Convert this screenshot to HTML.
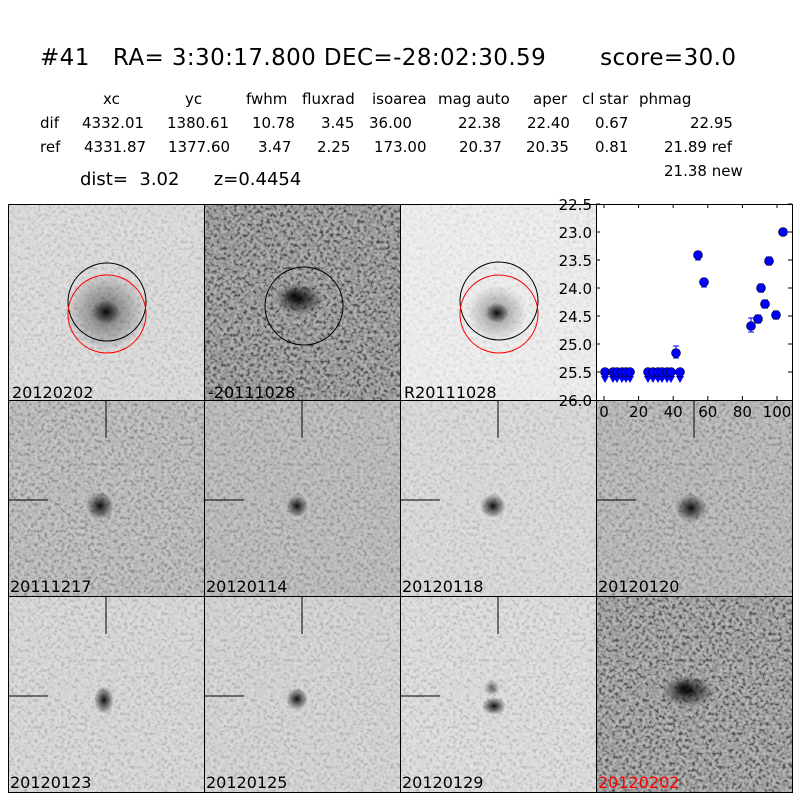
<!DOCTYPE html>
<html><head><meta charset="utf-8"><style>
html,body{margin:0;padding:0;background:#fff;}
svg{display:block;}
text{font-family:"DejaVu Sans","Liberation Sans",sans-serif;fill:#000;white-space:pre;}
</style></head><body>
<svg width="800" height="800" viewBox="0 0 800 800" xmlns="http://www.w3.org/2000/svg" xml:space="preserve">
<defs>
<filter id="n1" x="0" y="0" width="100%" height="100%"><feTurbulence type="fractalNoise" baseFrequency="0.3" numOctaves="2" seed="3"/><feColorMatrix type="matrix" values="0 0 0 0 0.5  0 0 0 0 0.5  0 0 0 0 0.5  0 0 0 1.4 -0.3"/></filter>
<filter id="n2" x="0" y="0" width="100%" height="100%"><feTurbulence type="fractalNoise" baseFrequency="0.3" numOctaves="2" seed="7"/><feColorMatrix type="matrix" values="2.5 0 0 0 -0.75  2.5 0 0 0 -0.75  2.5 0 0 0 -0.75  0 0 0 0 1"/></filter>
<radialGradient id="blob"><stop offset="0" stop-color="#000" stop-opacity="0.95"/><stop offset="0.4" stop-color="#111" stop-opacity="0.6"/><stop offset="1" stop-color="#000" stop-opacity="0"/></radialGradient>
</defs>
<text x="40" y="65" font-size="23" textLength="696" lengthAdjust="spacing">#41   RA= 3:30:17.800 DEC=-28:02:30.59       score=30.0</text>
<g font-size="15">
<text x="103" y="104">xc</text><text x="185" y="104">yc</text><text x="246" y="104">fwhm</text><text x="302" y="104">fluxrad</text><text x="372" y="104">isoarea</text><text x="438" y="104">mag auto</text><text x="533" y="104">aper</text><text x="582" y="104">cl star</text><text x="639" y="104">phmag</text>
<text x="40" y="128">dif</text><text x="82" y="128">4332.01</text><text x="167" y="128">1380.61</text><text x="252" y="128">10.78</text><text x="321" y="128">3.45</text><text x="369" y="128">36.00</text><text x="458" y="128">22.38</text><text x="527" y="128">22.40</text><text x="595" y="128">0.67</text><text x="690" y="128">22.95</text>
<text x="40" y="152">ref</text><text x="84" y="152">4331.87</text><text x="168" y="152">1377.60</text><text x="258" y="152">3.47</text><text x="317" y="152">2.25</text><text x="374" y="152">173.00</text><text x="459" y="152">20.37</text><text x="526" y="152">20.35</text><text x="595" y="152">0.81</text><text x="664" y="152">21.89 ref</text>
<text x="664" y="176">21.38 new</text>
</g>
<text x="80" y="185" font-size="18">dist=  3.02      z=0.4454</text>

<g transform="translate(8,204)"><rect width="196" height="196" fill="#dcdcdc"/><rect width="196" height="196" filter="url(#n2)" opacity="0.12"/><ellipse cx="98" cy="108" rx="40" ry="40" fill="url(#blob)" opacity="0.55"/><ellipse cx="98" cy="108" rx="14" ry="12" fill="url(#blob)"/><circle cx="99" cy="98" r="39" fill="none" stroke="#000"/><circle cx="99" cy="110" r="39" fill="none" stroke="red"/><text x="4" y="194" font-size="16">20120202</text></g>
<g transform="translate(204,204)"><rect width="196" height="196" fill="#808080"/><rect width="196" height="196" filter="url(#n2)" opacity="0.4"/><ellipse cx="95" cy="95" rx="24" ry="16" fill="url(#blob)"/><ellipse cx="90" cy="92" rx="10" ry="8" fill="url(#blob)"/><circle cx="100" cy="102" r="39" fill="none" stroke="#000"/><text x="4" y="194" font-size="16">-20111028</text></g>
<g transform="translate(400,204)"><rect width="196" height="196" fill="#efefef"/><rect width="196" height="196" filter="url(#n2)" opacity="0.08"/><ellipse cx="97" cy="109" rx="30" ry="28" fill="url(#blob)" opacity="0.4"/><ellipse cx="97" cy="109" rx="12" ry="10" fill="url(#blob)"/><circle cx="99" cy="97" r="39" fill="none" stroke="#000"/><circle cx="99" cy="110" r="39" fill="none" stroke="red"/><text x="4" y="194" font-size="16">R20111028</text></g>

<g transform="translate(8,400)"><rect width="196" height="196" fill="#b8b8b8"/><rect width="196" height="196" filter="url(#n2)" opacity="0.22"/><ellipse cx="92" cy="106" rx="14" ry="14" fill="url(#blob)"/><path d="M98 0V38M0 100H40" stroke="#000"/><text x="2" y="192" font-size="16">20111217</text></g>
<g transform="translate(204,400)"><rect width="196" height="196" fill="#b8b8b8"/><rect width="196" height="196" filter="url(#n2)" opacity="0.18"/><ellipse cx="93" cy="106" rx="11" ry="11" fill="url(#blob)"/><path d="M98 0V38M0 100H40" stroke="#000"/><text x="2" y="192" font-size="16">20120114</text></g>
<g transform="translate(400,400)"><rect width="196" height="196" fill="#dadada"/><rect width="196" height="196" filter="url(#n2)" opacity="0.12"/><ellipse cx="93" cy="106" rx="13" ry="12" fill="url(#blob)"/><path d="M98 0V38M0 100H40" stroke="#000"/><text x="2" y="192" font-size="16">20120118</text></g>
<g transform="translate(596,400)"><rect width="196" height="196" fill="#b4b4b4"/><rect width="196" height="196" filter="url(#n2)" opacity="0.2"/><ellipse cx="95" cy="108" rx="16" ry="14" fill="url(#blob)"/><path d="M98 0V38M0 100H40" stroke="#000"/><text x="2" y="192" font-size="16">20120120</text></g>

<g transform="translate(8,596)"><rect width="196" height="196" fill="#d8d8d8"/><rect width="196" height="196" filter="url(#n2)" opacity="0.14"/><ellipse cx="96" cy="104" rx="10" ry="14" fill="url(#blob)"/><path d="M98 0V38M0 100H40" stroke="#000"/><text x="2" y="192" font-size="16">20120123</text></g>
<g transform="translate(204,596)"><rect width="196" height="196" fill="#d4d4d4"/><rect width="196" height="196" filter="url(#n2)" opacity="0.14"/><ellipse cx="93" cy="103" rx="11" ry="11" fill="url(#blob)"/><path d="M98 0V38M0 100H40" stroke="#000"/><text x="2" y="192" font-size="16">20120125</text></g>
<g transform="translate(400,596)"><rect width="196" height="196" fill="#dedede"/><rect width="196" height="196" filter="url(#n2)" opacity="0.14"/><ellipse cx="92" cy="92" rx="8" ry="8" fill="url(#blob)" opacity="0.6"/><ellipse cx="94" cy="110" rx="12" ry="9" fill="url(#blob)"/><path d="M98 0V38M0 100H40" stroke="#000"/><text x="2" y="192" font-size="16">20120129</text></g>
<g transform="translate(596,596)"><rect width="196" height="196" fill="#8a8a8a"/><rect width="196" height="196" filter="url(#n2)" opacity="0.4"/><ellipse cx="92" cy="95" rx="26" ry="16" fill="url(#blob)"/><ellipse cx="88" cy="92" rx="10" ry="8" fill="url(#blob)"/><text x="2" y="192" font-size="16" style="fill:red">20120202</text></g>

<g fill="none" stroke="#000" stroke-width="1">
<rect x="8.5" y="204.5" width="784" height="588"/>
<path d="M204.5 204V792M400.5 204V792M596.5 400V792M8 400.5H792M8 596.5H792"/>
</g>

<rect x="596.5" y="204.5" width="196" height="196" fill="#fff" stroke="#000"/>
<g stroke="#000" stroke-width="1">
<path d="M604 204v4M604 400v-4M638.6 204v4M638.6 400v-4M673.2 204v4M673.2 400v-4M707.8 204v4M707.8 400v-4M742.4 204v4M742.4 400v-4M777 204v4M777 400v-4"/>
<path d="M596 204h4M792 204h-4M596 232h4M792 232h-4M596 260h4M792 260h-4M596 288h4M792 288h-4M596 316h4M792 316h-4M596 344h4M792 344h-4M596 372h4M792 372h-4"/>
</g>
<g font-size="15" text-anchor="end">
<text x="592" y="210">22.5</text><text x="592" y="238">23.0</text><text x="592" y="266">23.5</text><text x="592" y="294">24.0</text><text x="592" y="322">24.5</text><text x="592" y="350">25.0</text><text x="592" y="378">25.5</text><text x="592" y="406">26.0</text>
</g>
<g font-size="15" text-anchor="middle">
<text x="604" y="417">0</text><text x="638.6" y="417">20</text><text x="673.2" y="417">40</text><text x="707.8" y="417">60</text><text x="742.4" y="417">80</text><text x="777" y="417">100</text>
</g>
<g fill="#0000ff">
<path d="M601 376h8l-4 7z M609 376h8l-4 7z M613 376h8l-4 7z M618 376h8l-4 7z M622 376h8l-4 7z M626 376h8l-4 7z M644 376h8l-4 7z M649 376h8l-4 7z M654 376h8l-4 7z M658 376h8l-4 7z M663 376h8l-4 7z M667 376h8l-4 7z M676 376h8l-4 7z"/>
</g>
<g fill="#0000ff" stroke="#000" stroke-width="0.6">
<circle cx="605" cy="372" r="4.5"/><circle cx="613" cy="372" r="4.5"/><circle cx="617" cy="372" r="4.5"/><circle cx="622" cy="372" r="4.5"/><circle cx="626" cy="372" r="4.5"/><circle cx="630" cy="372" r="4.5"/>
<circle cx="648" cy="372" r="4.5"/><circle cx="653" cy="372" r="4.5"/><circle cx="658" cy="372" r="4.5"/><circle cx="662" cy="372" r="4.5"/><circle cx="667" cy="372" r="4.5"/><circle cx="671" cy="372" r="4.5"/><circle cx="680" cy="372" r="4.5"/>
</g>
<g stroke="#0000ff" stroke-width="1"><path d="M676 346v12M673 346h6M673 358h6M698 252v8M695 252h6M695 260h6M704 279v8M701 279h6M701 287h6M751 318v14M748 318h6M748 332h6M758 315v8M755 315h6M755 323h6M761 284v8M758 284h6M758 292h6M765 300v8M762 300h6M762 308h6M769 257v8M766 257h6M766 265h6M776 311v8M773 311h6M773 319h6"/></g>
<g fill="#0000ff" stroke="#000" stroke-width="0.6">
<circle cx="676" cy="353" r="4.5"/><circle cx="698" cy="255" r="4.5"/><circle cx="704" cy="282" r="4.5"/><circle cx="751" cy="326" r="4.5"/><circle cx="758" cy="319" r="4.5"/><circle cx="761" cy="288" r="4.5"/><circle cx="765" cy="304" r="4.5"/><circle cx="769" cy="261" r="4.5"/><circle cx="776" cy="315" r="4.5"/><circle cx="783" cy="232" r="4.5"/>
</g>
</svg>
</body></html>
